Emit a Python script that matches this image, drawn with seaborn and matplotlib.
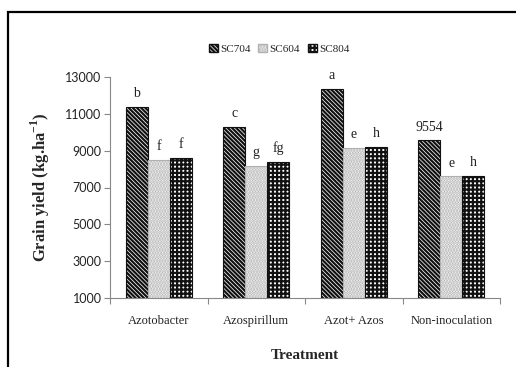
import matplotlib
matplotlib.use("Agg")
import matplotlib.pyplot as plt
import seaborn as sns
import pandas as pd
from matplotlib.patches import Rectangle
from matplotlib.ticker import FixedLocator

# Grain yield by inoculation treatment and maize hybrid
treatments = ["Azotobacter", "Azospirillum", "Azot+ Azos", "Non-inoculation"]
hybrids = ["SC704", "SC604", "SC804"]
sc704 = [11350, 10290, 12360, 9554]
sc604 = [8480, 8190, 9170, 7600]
sc804 = [8600, 8370, 9200, 7630]
letters_sc704 = ["b", "c", "a", "9554"]
letters_sc604 = ["f", "g", "e", "e"]
letters_sc804 = ["f", "fg", "h", "h"]
y_ticks = [1000, 3000, 5000, 7000, 9000, 11000, 13000]

rows = []
for i, t in enumerate(treatments):
    for h, vals in zip(hybrids, (sc704, sc604, sc804)):
        rows.append({"Treatment": t, "Hybrid": h, "Yield": vals[i]})
df = pd.DataFrame(rows)

sns.set_theme(style="white")
serif = ["Liberation Serif", "DejaVu Serif"]
plt.rcParams["font.family"] = serif
plt.rcParams["mathtext.fontset"] = "custom"
plt.rcParams["mathtext.rm"] = "Liberation Serif:bold"
plt.rcParams["mathtext.bf"] = "Liberation Serif:bold"
plt.rcParams["hatch.linewidth"] = 1.6

fig = plt.figure(figsize=(5.16, 3.67), dpi=100)
ax = fig.add_axes([110 / 516, 1 - 298 / 367, 390 / 516, 221 / 367])

styles = {
    "SC704": dict(hatch="\\" * 8, edgecolor="#111111"),
    "SC604": dict(hatch="." * 6, edgecolor="#b0b0b0"),
    "SC804": dict(hatch="+" * 4, edgecolor="#111111"),
}

sns.barplot(data=df, x="Treatment", y="Yield", hue="Hybrid", order=treatments,
            hue_order=hybrids, palette=["white"] * 3, width=0.68, gap=0,
            errorbar=None, legend=False, ax=ax, saturation=1)

for h, cont, labs in zip(hybrids, ax.containers,
                         (letters_sc704, letters_sc604, letters_sc804)):
    for bar in cont:
        bar.set_hatch(styles[h]["hatch"])
        bar.set_edgecolor(styles[h]["edgecolor"])
        bar.set_linewidth(0.8)
    ax.bar_label(cont, labels=labs, padding=5, fontsize=10, color="#222222",
                 family=serif)

ax.set_ylim(1000, 13000)
ax.set_xlim(-0.5, 3.5)
ax.set_yticks(y_ticks)
ax.set_yticklabels([str(v) for v in y_ticks], family="Lato", fontsize=9,
                   color="#222222")
ax.set_xticks(range(len(treatments)))
ax.set_xticklabels(treatments, family=serif, fontsize=9, color="#222222")
ax.tick_params(axis="y", length=4, width=0.8, color="#888888", pad=2, left=True)
ax.tick_params(axis="x", which="major", length=0, pad=12)
ax.xaxis.set_minor_locator(FixedLocator([-0.5, 0.5, 1.5, 2.5, 3.5]))
ax.tick_params(axis="x", which="minor", length=4, width=0.8, color="#888888",
               bottom=True)

for side in ("top", "right"):
    ax.spines[side].set_visible(False)
for side in ("left", "bottom"):
    ax.spines[side].set_color("#888888")
    ax.spines[side].set_linewidth(0.8)

ax.set_xlabel("Treatment", fontsize=11, fontweight="bold", labelpad=16,
              family=serif)
ax.set_ylabel(r"Grain yield (kg.ha$^{\mathbf{-1}}$)", fontsize=12,
              fontweight="bold", labelpad=10, family=serif)

# legend with hatched swatches
handles = [Rectangle((0, 0), 1, 1, facecolor="white", **styles[h]) for h in hybrids]
fig.legend(handles, hybrids, loc="center", bbox_to_anchor=(279 / 516, 1 - 49 / 367),
           ncol=3, frameon=False, handlelength=0.8, handleheight=0.8,
           handletextpad=0.2, columnspacing=0.7, prop={"family": serif, "size": 8})

# outer frame running off the right and bottom edges
top = 1 - 12 / 367
fig.add_artist(Rectangle((8 / 516, -0.2), 1.2, top + 0.2,
                         transform=fig.transFigure, fill=False,
                         edgecolor="black", linewidth=1.6))

fig.savefig("out.png", dpi=100)
